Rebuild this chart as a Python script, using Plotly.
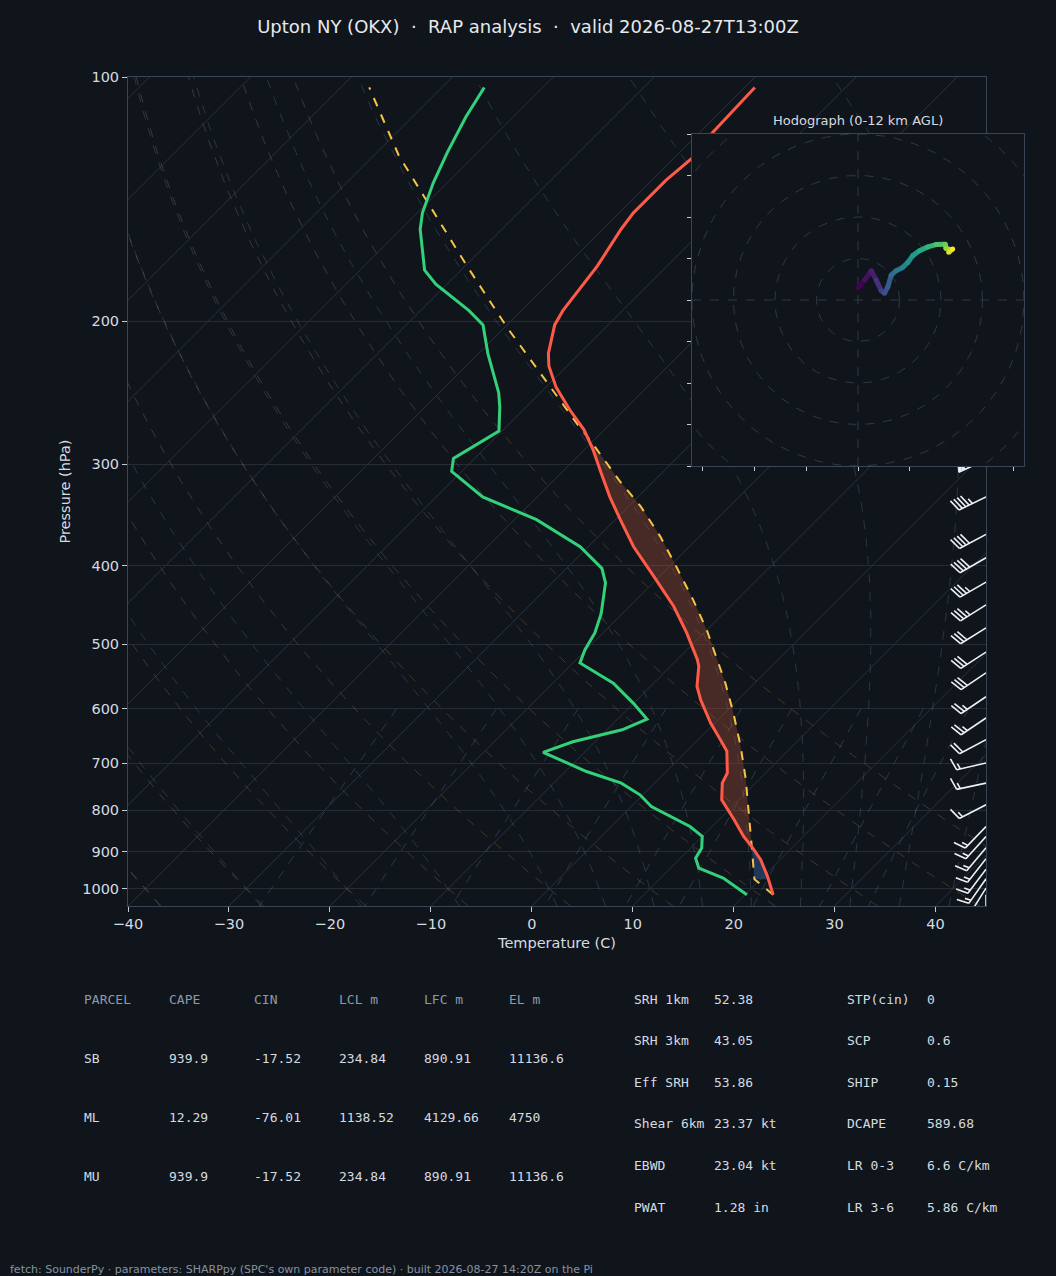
import numpy as np
import plotly.graph_objects as go
from plotly.colors import sample_colorscale

# RAP analysis sounding for Upton NY (OKX)
temp_p = [1017, 965, 921, 887, 862, 822, 777, 741, 720, 677, 655, 625, 585, 563, 532, 522, 484, 449, 412,
          379, 351, 329, 305, 288, 272, 257, 241, 227, 219, 202, 194, 171, 154, 147, 134, 126, 117, 103]
temp_c = [22.8, 20.4, 18.1, 15.9, 14.1, 11.5, 8.3, 6.7, 6.2, 4.0, 2.2, -0.4, -3.7, -5.4, -7.2, -8.0, -11.7,
          -15.6, -20.6, -25.5, -29.5, -32.8, -36.4, -39.1, -42.0, -45.4, -49.0, -51.8, -53.1, -55.3, -55.9,
          -56.9, -58.2, -58.6, -58.6, -58.2, -58.7, -59.0]

dewp_p = [1017, 970, 943, 917, 891, 862, 838, 792, 766, 741, 717, 679, 659, 637, 618, 591, 558, 527, 508,
          484, 458, 420, 403, 379, 351, 329, 306, 295, 273, 255, 245, 219, 202, 194, 180, 173, 154, 147,
          135, 124, 112, 103]
dewp_c = [20.2, 16.2, 12.8, 11.5, 11.1, 10.0, 7.8, 2.0, -0.3, -3.3, -7.9, -14.1, -12.2, -8.5, -7.1, -10.0,
          -14.0, -19.3, -20.1, -20.8, -22.1, -24.7, -26.5, -30.8, -37.8, -45.4, -51.0, -52.1, -50.3, -52.6,
          -54.1, -59.1, -62.4, -65.2, -71.1, -73.6, -78.1, -79.5, -81.4, -83.0, -84.7, -85.8]

# surface-based parcel path
parcel_p = [1017, 973, 887, 807, 734, 668, 608, 558, 518, 480, 441, 401, 368, 338, 314, 280, 270, 238,
            203, 171, 141, 125, 103]
parcel_c = [22.8, 19.4, 15.9, 12.3, 8.7, 4.9, 0.9, -2.9, -6.4, -10.0, -14.3, -19.3, -23.9, -28.8, -33.5,
            -40.4, -42.7, -50.3, -59.9, -69.8, -80.7, -87.5, -97.2]
LCL_P, LFC_P, EL_P = 973, 887, 272

# wind barbs
wind_p = [1017, 998, 972, 946, 918, 890, 862, 838, 788, 741, 700, 655, 616, 580, 542, 511, 477,
          447, 419, 391, 366, 329, 296]
wind_kt = [5, 15, 15, 15, 15, 15, 15, 15, 15, 15, 15, 20, 25, 25, 30, 30, 30, 35, 35, 40, 40, 45, 50]
wind_dir = [180, 212, 215, 217, 218, 220, 222, 224, 243, 258, 257, 242, 236, 236, 236, 237, 238,
            238, 240, 240, 242, 244, 245]

# hodograph 0-12 km
hodo_km = [0, 0.5, 1.0, 1.6, 2.3, 3.0, 3.5, 4.2, 4.8, 5.4, 6.0, 6.6, 7.2, 7.9, 8.6, 9.3, 10.0, 10.8, 11.4, 12.0]
hodo_u = [0.0, 3.2, 6.4, 8.8, 11.2, 12.8, 14.4, 16.0, 18.4, 21.3, 24.0, 26.4, 29.6, 33.6, 37.6, 42.1,
          42.4, 44.8, 43.7, 45.6]
hodo_v = [5.9, 9.6, 14.1, 9.6, 4.5, 3.2, 6.4, 12.0, 14.1, 15.5, 18.1, 21.4, 23.7, 25.6, 26.7, 26.9,
          24.8, 24.3, 23.0, 24.6]

# SHARPpy parameter table
parcel_head = ["PARCEL", "CAPE", "CIN", "LCL m", "LFC m", "EL m"]
parcel_rows = ["SB", "ML", "MU"]
cape = [939.9, 12.29, 939.9]
cin = [-17.52, -76.01, -17.52]
lcl_m = [234.84, 1138.52, 234.84]
lfc_m = [890.91, 4129.66, 890.91]
el_m = [11136.6, 4750, 11136.6]

idx_names_1 = ["SRH 1km", "SRH 3km", "Eff SRH", "Shear 6km", "EBWD", "PWAT"]
idx_vals_1 = [52.38, 43.05, 53.86, 23.37, 23.04, 1.28]
idx_units_1 = ["", "", "", " kt", " kt", " in"]
idx_names_2 = ["STP(cin)", "SCP", "SHIP", "DCAPE", "LR 0-3", "LR 3-6"]
idx_vals_2 = [0, 0.6, 0.15, 589.68, 6.6, 5.86]
idx_units_2 = ["", "", "", "", " C/km", " C/km"]

TITLE = "Upton NY (OKX)\u00a0 ·\u00a0 RAP analysis\u00a0 ·\u00a0 valid 2026-08-27T13:00Z"
FOOTER = "fetch: SounderPy · parameters: SHARPpy (SPC's own parameter code) · built 2026-08-27 14:20Z on the Pi"

# layout
W, H = 1056, 1276
BG = "#10151c"
TXT = "#d6dbe1"
HEAD = "#8d9aab"
SPINE = "#3a4555"
GRID = "#252c36"
SKEW_DOM_X = [128 / W, 986 / W]
SKEW_DOM_Y = [1 - 906 / H, 1 - 77 / H]
HODO_DOM_X = [692 / W, 1024 / W]
HODO_DOM_Y = [1 - 466 / H, 1 - 134 / H]
T_MIN, T_MAX = -40, 45
P_BOT, P_TOP = 1050.0, 100.0
HODO_MAX = 80

PLOT_W = (SKEW_DOM_X[1] - SKEW_DOM_X[0]) * W
PLOT_H = (SKEW_DOM_Y[1] - SKEW_DOM_Y[0]) * H
LOG_SPAN = np.log10(P_BOT) - np.log10(P_TOP)
PX_PER_C = PLOT_W / (T_MAX - T_MIN)
PX_PER_DEC = PLOT_H / LOG_SPAN
SKEW = PLOT_H / PX_PER_C  # isotherms at 45 degrees on screen

RD, LV, CP, EPS = 287.04749, 2.50084e6, 1004.6662, 0.622


def skew_x(t, p):
    return np.asarray(t, float) + SKEW * (np.log10(P_BOT) - np.log10(np.asarray(p, float))) / LOG_SPAN


def joined(lines):
    xs, ys = [], []
    for x, y in lines:
        xs += list(x) + [None]
        ys += list(y) + [None]
    return xs, ys


def moist_adiabat(t0, pres):
    def f(p, t):
        es = 6.112 * np.exp(17.67 * (t - 273.15) / (t - 29.65))
        rs = EPS * es / (p - es)
        return (RD * t + LV * rs) / (CP + LV * LV * rs * EPS / (RD * t * t)) / p

    def rk4(p, t, h):
        k1 = f(p, t)
        k2 = f(p + h / 2, t + h / 2 * k1)
        k3 = f(p + h / 2, t + h / 2 * k2)
        k4 = f(p + h, t + h * k3)
        return t + h / 6 * (k1 + 2 * k2 + 2 * k3 + k4)

    i0 = int(np.argmin(np.abs(pres - 1000)))
    out = np.empty_like(pres)
    out[i0] = t0 + 273.15
    for i in range(i0, len(pres) - 1):
        out[i + 1] = rk4(pres[i], out[i], pres[i + 1] - pres[i])
    for i in range(i0, 0, -1):
        out[i - 1] = rk4(pres[i], out[i], pres[i - 1] - pres[i])
    return out - 273.15


def background_traces():
    traces = []
    # isotherms
    lines = []
    for t in range(-130, 41, 10):
        lines.append((skew_x([t, t], [P_BOT, P_TOP]), [P_BOT, P_TOP]))
    x, y = joined(lines)
    traces.append(go.Scatter(x=x, y=y, mode="lines", line=dict(color="#29313b", width=1), hoverinfo="skip"))

    pres = np.linspace(P_BOT, P_TOP, 191)
    # dry adiabats
    lines = []
    for t0 in range(-40, 51, 10):
        t = (t0 + 273.15) * (pres / 1000.0) ** 0.2857 - 273.15
        lines.append((skew_x(t, pres), pres))
    x, y = joined(lines)
    traces.append(go.Scatter(x=x, y=y, mode="lines", hoverinfo="skip",
                             line=dict(color="rgba(170,120,70,0.33)", width=1, dash="dash")))
    # moist adiabats
    lines = []
    for t0 in [-40, -30, -20, -10] + list(range(0, 46, 5)):
        t = moist_adiabat(float(t0), pres)
        lines.append((skew_x(t, pres), pres))
    x, y = joined(lines)
    traces.append(go.Scatter(x=x, y=y, mode="lines", hoverinfo="skip",
                             line=dict(color="rgba(90,130,170,0.30)", width=1, dash="dash")))
    # mixing ratio lines
    lines = []
    pm = np.linspace(600, P_BOT, 30)
    for w in [0.0004, 0.001, 0.002, 0.004, 0.007, 0.01, 0.016, 0.024, 0.032]:
        e = pm * w / (EPS + w)
        lg = np.log(e / 6.112)
        td = 243.5 * lg / (17.67 - lg)
        lines.append((skew_x(td, pm), pm))
    x, y = joined(lines)
    traces.append(go.Scatter(x=x, y=y, mode="lines", hoverinfo="skip",
                             line=dict(color="rgba(100,140,165,0.30)", width=1, dash="dash")))
    return traces


def shade_traces():
    tp, tc = np.array(temp_p, float), np.array(temp_c, float)
    pp, pc = np.array(parcel_p, float), np.array(parcel_c, float)
    traces = []
    # CAPE: parcel warmer than environment between LFC and EL
    m_env = (tp <= LFC_P) & (tp >= EL_P)
    m_par = (pp <= LFC_P) & (pp >= EL_P)
    x = list(skew_x(tc[m_env], tp[m_env])) + list(skew_x(pc[m_par], pp[m_par]))[::-1]
    y = list(tp[m_env]) + list(pp[m_par])[::-1]
    traces.append(go.Scatter(x=x, y=y, mode="lines", fill="toself", line=dict(width=0),
                             fillcolor="rgba(200,90,60,0.30)", hoverinfo="skip"))
    # CIN: between LCL and LFC
    t_lcl = np.interp(np.log(LCL_P), np.log(tp[::-1]), tc[::-1])
    m_env = (tp < LCL_P) & (tp >= LFC_P)
    m_par = (pp <= LCL_P) & (pp >= LFC_P)
    x = [float(skew_x(t_lcl, LCL_P))] + list(skew_x(tc[m_env], tp[m_env])) + list(skew_x(pc[m_par], pp[m_par]))[::-1]
    y = [LCL_P] + list(tp[m_env]) + list(pp[m_par])[::-1]
    traces.append(go.Scatter(x=x, y=y, mode="lines", fill="toself", line=dict(width=0),
                             fillcolor="rgba(60,110,190,0.38)", hoverinfo="skip"))
    return traces


def barb_geometry(p0, spd, wdir, length=30.0):
    h, w, sp = 0.4 * length, 0.25 * length, 0.125 * length
    rad = np.deg2rad(wdir)
    u, v = -spd * np.sin(rad), -spd * np.cos(rad)
    ang = np.arctan2(v, u) + np.pi / 2
    ca, sa = np.cos(ang), np.sin(ang)

    def to_data(pts):
        xs, ys = [], []
        for lx, ly in pts:
            dx = lx * ca - ly * sa
            dy = lx * sa + ly * ca
            xs.append(T_MAX + dx / PX_PER_C)
            ys.append(10 ** (np.log10(p0) - dy / PX_PER_DEC))
        return xs, ys

    mag = 5 * round(spd / 5)
    nflag, mag = divmod(mag, 50)
    nbarb, mag = divmod(mag, 10)
    lines = [[(0, 0), (0, length)]]
    flags = []
    off = length
    for _ in range(nflag):
        if off != length:
            off += sp / 2
        flags.append([(0, off), (h, off - w / 2), (0, off - w)])
        off -= w + sp
    for _ in range(nbarb):
        lines.append([(0, off), (h, off + w / 2)])
        off -= sp
    if mag >= 5:
        if off == length:
            off -= 1.5 * sp
        lines.append([(0, off), (h / 2, off + w / 4)])
    return [to_data(l) for l in lines], [to_data(f) for f in flags]


def barb_traces():
    lines, flags = [], []
    for p0, spd, wd in zip(wind_p, wind_kt, wind_dir):
        l, f = barb_geometry(p0, spd, wd)
        lines += l
        flags += f
    traces = []
    x, y = joined(lines)
    traces.append(go.Scatter(x=x, y=y, mode="lines", line=dict(color="#eef1f4", width=1.6), hoverinfo="skip"))
    if flags:
        x, y = joined(flags)
        traces.append(go.Scatter(x=x, y=y, mode="lines", fill="toself", fillcolor="#eef1f4",
                                 line=dict(color="#eef1f4", width=1), hoverinfo="skip"))
    return traces


def hodograph_traces():
    traces = []
    r = HODO_MAX
    # opaque panel so the inset covers the skew-T behind it
    traces.append(go.Scatter(x=[-r, r, r, -r, -r], y=[-r, -r, r, r, -r], mode="lines", fill="toself",
                             fillcolor=BG, line=dict(width=0), xaxis="x2", yaxis="y2", hoverinfo="skip"))
    th = np.linspace(0, 2 * np.pi, 181)
    rings = [(rr * np.cos(th), rr * np.sin(th)) for rr in range(20, 121, 20)]
    rings += [([-r, r], [0, 0]), ([0, 0], [-r, r])]
    x, y = joined(rings)
    traces.append(go.Scatter(x=x, y=y, mode="lines", line=dict(color="#2e3947", width=1, dash="dash"),
                             xaxis="x2", yaxis="y2", hoverinfo="skip"))
    cols = sample_colorscale("Viridis", [k / 12.0 for k in hodo_km])
    for i in range(len(hodo_u) - 1):
        traces.append(go.Scatter(x=hodo_u[i:i + 2], y=hodo_v[i:i + 2], mode="lines",
                                 line=dict(color=cols[i], width=5), xaxis="x2", yaxis="y2", hoverinfo="skip"))
    # round off the joints between coloured segments
    traces.append(go.Scatter(x=hodo_u, y=hodo_v, mode="markers", xaxis="x2", yaxis="y2", hoverinfo="skip",
                             marker=dict(size=5, color=cols, line=dict(width=0))))
    return traces


def table_annotations():
    ann = []

    def put(px, py, text, color):
        ann.append(dict(x=(px - 2) / W, y=1 - py / H, xref="paper", yref="paper", text=text, showarrow=False,
                        xanchor="left", yanchor="middle",
                        font=dict(family="DejaVu Sans Mono", size=13, color=color)))

    col_x = [84, 169, 254, 339, 424, 509]
    for x, head in zip(col_x, parcel_head):
        put(x, 999, head, HEAD)
    for i, name in enumerate(parcel_rows):
        row = [name] + [f"{v:g}" for v in (cape[i], cin[i], lcl_m[i], lfc_m[i], el_m[i])]
        for x, txt in zip(col_x, row):
            put(x, 1058 + 59 * i, txt, TXT)
    for i in range(len(idx_names_1)):
        y = 999 + 41.6 * i
        put(634, y, idx_names_1[i], TXT)
        put(714, y, f"{idx_vals_1[i]:g}{idx_units_1[i]}", TXT)
        put(847, y, idx_names_2[i], TXT)
        put(927, y, f"{idx_vals_2[i]:g}{idx_units_2[i]}", TXT)
    return ann


def main():
    fig = go.Figure()
    for tr in background_traces():
        fig.add_trace(tr)
    for tr in shade_traces():
        fig.add_trace(tr)
    fig.add_trace(go.Scatter(x=skew_x(parcel_c, parcel_p), y=parcel_p, mode="lines",
                             line=dict(color="#f5c542", width=2, dash="dash"), name="Parcel"))
    fig.add_trace(go.Scatter(x=skew_x(temp_c, temp_p), y=temp_p, mode="lines",
                             line=dict(color="#ff5a48", width=3), name="Temperature"))
    fig.add_trace(go.Scatter(x=skew_x(dewp_c, dewp_p), y=dewp_p, mode="lines",
                             line=dict(color="#33d17a", width=3), name="Dewpoint"))
    for tr in barb_traces():
        fig.add_trace(tr)
    for tr in hodograph_traces():
        fig.add_trace(tr)

    tick_font = dict(family="DejaVu Sans", size=14.5, color=TXT)
    xt = list(range(-40, 41, 10))
    pt = list(range(100, 1001, 100))
    annotations = table_annotations()
    annotations.append(dict(x=(HODO_DOM_X[0] + HODO_DOM_X[1]) / 2, y=1 - 120 / H, xref="paper", yref="paper",
                            text="Hodograph (0-12 km AGL)", showarrow=False, xanchor="center", yanchor="middle",
                            font=dict(family="DejaVu Sans", size=13, color=TXT)))
    annotations.append(dict(x=8 / W, y=1 - 1269 / H, xref="paper", yref="paper", text=FOOTER,
                            showarrow=False, xanchor="left", yanchor="middle",
                            font=dict(family="DejaVu Sans", size=11, color="#8793a1")))

    fig.update_layout(
        width=W, height=H, margin=dict(l=0, r=0, t=0, b=0, autoexpand=False),
        paper_bgcolor=BG, plot_bgcolor=BG, showlegend=False,
        font=dict(family="DejaVu Sans", color=TXT),
        title=dict(text=TITLE, x=0.5, y=1 - 27 / H, xanchor="center", yanchor="middle",
                   font=dict(family="DejaVu Sans", size=18, color="#e6e9ed")),
        xaxis=dict(domain=SKEW_DOM_X, range=[T_MIN, T_MAX], anchor="y", automargin=False,
                   tickvals=xt, ticktext=[str(t).replace("-", "\u2212") for t in xt],
                   showgrid=False, zeroline=False, showline=True, mirror=True, linecolor=SPINE,
                   ticks="outside", ticklen=5, tickcolor="#c5cbd2", tickfont=tick_font,
                   title=dict(text="Temperature (C)", standoff=6, font=tick_font)),
        yaxis=dict(domain=SKEW_DOM_Y, type="log", range=[np.log10(P_BOT), np.log10(P_TOP)], anchor="x",
                   automargin=False, tickvals=pt, ticktext=[str(p) for p in pt],
                   showgrid=True, gridcolor=GRID, gridwidth=1, zeroline=False,
                   showline=True, mirror=True, linecolor=SPINE,
                   ticks="outside", ticklen=5, tickcolor="#c5cbd2", tickfont=tick_font,
                   title=dict(text="Pressure (hPa)", standoff=8, font=tick_font)),
        xaxis2=dict(domain=HODO_DOM_X, range=[-HODO_MAX, HODO_MAX], anchor="y2", automargin=False,
                    tickvals=list(range(-75, 76, 25)), showticklabels=False,
                    showgrid=False, zeroline=False, showline=True, mirror=True, linecolor=SPINE,
                    ticks="outside", ticklen=4, tickcolor="#c5cbd2"),
        yaxis2=dict(domain=HODO_DOM_Y, range=[-HODO_MAX, HODO_MAX], anchor="x2", automargin=False,
                    tickvals=list(range(-80, 81, 20)), showticklabels=False,
                    showgrid=False, zeroline=False, showline=True, mirror=True, linecolor=SPINE,
                    ticks="outside", ticklen=4, tickcolor="#c5cbd2"),
        annotations=annotations,
    )
    # the page's default body margin would shift the figure by 8 px
    fig.write_html("out.html", config={"displayModeBar": False},
                   post_script="document.body.style.margin='0';document.body.style.overflow='hidden';")


if __name__ == "__main__":
    main()
